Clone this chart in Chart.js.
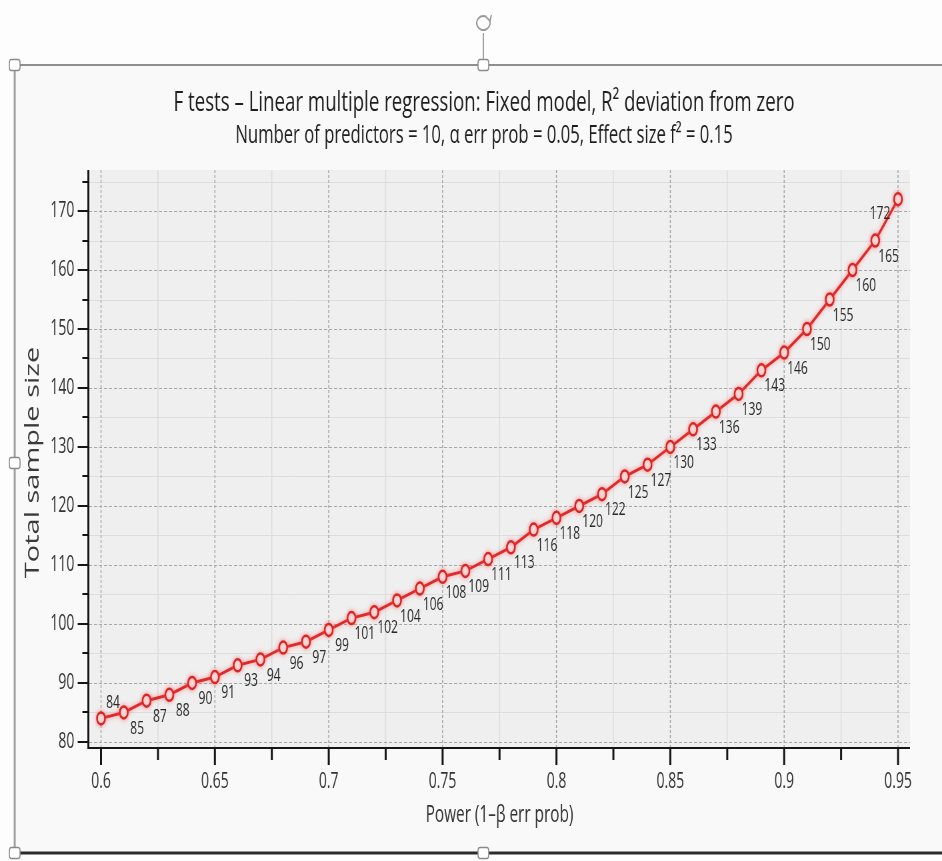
<!DOCTYPE html>
<html><head><meta charset="utf-8">
<script src="https://cdn.jsdelivr.net/npm/chart.js@4.4.1/dist/chart.umd.min.js"></script>
<style>
html,body{margin:0;padding:0;background:#fdfdfd;overflow:hidden;width:942px;height:861px;}
#wrap{width:1413px;height:861px;transform:scaleX(0.66667);transform-origin:0 0;}
canvas{display:block;}
</style>
</head><body>
<div id="wrap"><canvas id="c" width="1413" height="861"></canvas></div>
<script>
const powerValues = [0.60,0.61,0.62,0.63,0.64,0.65,0.66,0.67,0.68,0.69,0.70,0.71,0.72,0.73,0.74,0.75,0.76,0.77,0.78,0.79,0.80,0.81,0.82,0.83,0.84,0.85,0.86,0.87,0.88,0.89,0.90,0.91,0.92,0.93,0.94,0.95];
const sampleSizes = [84,85,87,88,90,91,93,94,96,97,99,101,102,104,106,108,109,111,113,116,118,120,122,125,127,130,133,136,139,143,146,150,155,160,165,172];
const xMajorTicks = [0.6,0.65,0.7,0.75,0.8,0.85,0.9,0.95];
const xMinorTicks = [0.625,0.675,0.725,0.775,0.825,0.875,0.925];
const yMajorTicks = [80,90,100,110,120,130,140,150,160,170];
const yMinorTicks = [85,95,105,115,125,135,145,155,165,175];

const FONT = "'Open Sans','Noto Sans',sans-serif";

const bgPlugin = {
  id: 'bg',
  beforeDraw(chart) {
    const ctx = chart.ctx, a = chart.chartArea;
    ctx.save();
    ctx.fillStyle = '#fdfdfd'; ctx.fillRect(0,0,chart.width,chart.height);
    ctx.fillStyle = '#f9f9f9'; ctx.fillRect(22,65,chart.width-22,853-65);
    ctx.fillStyle = '#efefef'; ctx.fillRect(a.left+2,a.top,a.right-a.left-2,a.bottom-a.top);
    const xs = chart.scales.x, ys = chart.scales.y;
    ctx.strokeStyle = '#dddddd'; ctx.setLineDash([]);
    ctx.lineWidth = 1.5;
    xMinorTicks.forEach(v=>{const p=xs.getPixelForValue(v);ctx.beginPath();ctx.moveTo(p,a.top);ctx.lineTo(p,a.bottom);ctx.stroke();});
    ctx.lineWidth = 1;
    yMinorTicks.forEach(v=>{const p=Math.round(ys.getPixelForValue(v))+0.5;ctx.beginPath();ctx.moveTo(a.left,p);ctx.lineTo(a.right,p);ctx.stroke();});
    ctx.strokeStyle = '#a6a6a6';
    ctx.lineWidth = 1.5; ctx.setLineDash([3,2]);
    xMajorTicks.forEach(v=>{const p=xs.getPixelForValue(v);ctx.beginPath();ctx.moveTo(p,a.top);ctx.lineTo(p,a.bottom);ctx.stroke();});
    ctx.lineWidth = 1; ctx.setLineDash([4.5,3]);
    yMajorTicks.forEach(v=>{const p=Math.round(ys.getPixelForValue(v))+0.5;ctx.beginPath();ctx.moveTo(a.left,p);ctx.lineTo(a.right,p);ctx.stroke();});
    ctx.setLineDash([]);
    ctx.strokeStyle = '#151515';
    ctx.lineWidth = 3;
    ctx.beginPath(); ctx.moveTo(a.left-1,a.top); ctx.lineTo(a.left-1,a.bottom+2); ctx.stroke();
    ctx.lineWidth = 2;
    ctx.beginPath(); ctx.moveTo(a.left-2,a.bottom+1); ctx.lineTo(a.right,a.bottom+1); ctx.stroke();
    yMajorTicks.forEach(v=>{const p=Math.round(ys.getPixelForValue(v));ctx.beginPath();ctx.moveTo(a.left-17,p);ctx.lineTo(a.left-1,p);ctx.stroke();});
    yMinorTicks.forEach(v=>{const p=Math.round(ys.getPixelForValue(v));ctx.beginPath();ctx.moveTo(a.left-10,p);ctx.lineTo(a.left-1,p);ctx.stroke();});
    ctx.lineWidth = 3;
    xMajorTicks.forEach(v=>{const p=xs.getPixelForValue(v);ctx.beginPath();ctx.moveTo(p,a.bottom+1);ctx.lineTo(p,a.bottom+18);ctx.stroke();});
    xMinorTicks.forEach(v=>{const p=xs.getPixelForValue(v);ctx.beginPath();ctx.moveTo(p,a.bottom+1);ctx.lineTo(p,a.bottom+13);ctx.stroke();});
    ctx.restore();
  }
};

const glowPlugin = {
  id: 'glow',
  beforeDatasetDraw(chart) {
    const ctx = chart.ctx; ctx.save();
    ctx.shadowColor = 'rgba(255,90,90,0.6)'; ctx.shadowBlur = 5;
  },
  afterDatasetDraw(chart) { chart.ctx.restore(); }
};

const labelPlugin = {
  id: 'pointLabels',
  afterDatasetsDraw(chart) {
    const ctx = chart.ctx, meta = chart.getDatasetMeta(0), data = chart.data.datasets[0].data;
    ctx.save();
    ctx.font = "18px " + FONT; ctx.fillStyle = '#2a2a2a';
    ctx.textAlign = 'center'; ctx.textBaseline = 'middle';
    meta.data.forEach((pt,i)=>{
      let dx = 20, dy = 16;
      if (i === 0) { dx = 18; dy = -16; }
      if (i === meta.data.length-1) { dx = -27; dy = 15; }
      ctx.fillText(String(data[i].y), pt.x+dx, pt.y+dy);
    });
    ctx.restore();
  }
};

const yTitlePlugin = {
  id: 'yTitle',
  afterDraw(chart) {
    const t = chart.options.scales.y.title, a = chart.chartArea, ctx = chart.ctx;
    ctx.save();
    ctx.translate(50, (a.top+a.bottom)/2 + 4);
    ctx.rotate(-Math.PI/2);
    ctx.font = "29px " + FONT;
    ctx.fillStyle = '#3a3a3a';
    ctx.textAlign = 'center'; ctx.textBaseline = 'middle';
    ctx.fillText(t.text, 0, 0);
    ctx.restore();
  }
};

const framePlugin = {
  id: 'frame',
  afterDraw(chart) {
    const ctx = chart.ctx, W = chart.width;
    ctx.save();
    const line=(x1,y1,x2,y2)=>{ctx.beginPath();ctx.moveTo(x1,y1);ctx.lineTo(x2,y2);ctx.stroke();};
    ctx.lineWidth = 2; ctx.strokeStyle = '#8e8e8e'; line(22,65,W,65);
    ctx.lineWidth = 3; ctx.strokeStyle = '#a0a0a0'; line(22,65,22,853);
    ctx.lineWidth = 3; ctx.strokeStyle = '#2b2b2b'; line(22,853,W,853);
    ctx.lineWidth = 1.5; ctx.strokeStyle = '#808080'; line(725,33,725,60);
    ctx.lineWidth = 2; ctx.strokeStyle = '#9a9a9a';
    ctx.beginPath(); ctx.ellipse(725,23,10,7,0,-0.15*Math.PI,1.65*Math.PI); ctx.stroke();
    ctx.beginPath(); ctx.moveTo(729,17); ctx.lineTo(735,21); ctx.lineTo(737,15); ctx.stroke();
    [[22,65],[725,65],[22,463],[22,853],[725,853]].forEach(([x,y])=>{
      ctx.beginPath(); ctx.roundRect(x-8,y-5.5,16,11,3);
      ctx.fillStyle='#ffffff'; ctx.fill(); ctx.lineWidth=1.6; ctx.strokeStyle='#8a8a8a'; ctx.stroke();
    });
    ctx.restore();
  }
};

new Chart(document.getElementById('c'), {
  type: 'line',
  data: {
    datasets: [{
      data: powerValues.map((p,i)=>({x:p, y:sampleSizes[i]})),
      borderColor: '#e02a2a',
      borderWidth: 3,
      pointRadius: 6,
      pointBorderWidth: 2.5,
      pointBackgroundColor: '#f6eaea',
      pointBorderColor: '#d82424',
      tension: 0,
      fill: false,
      yAxisID: 'y'
    }]
  },
  options: {
    responsive: false,
    animation: false,
    layout: { padding: { left: 39, right: 0, top: 0, bottom: 0 } },
    plugins: {
      legend: { display: false },
      tooltip: { enabled: false },
      title: {
        display: true,
        text: 'F tests \u2013 Linear multiple regression: Fixed model, R\u00b2 deviation from zero',
        color: '#1e1e1e',
        font: { family: FONT, size: 28, weight: 'normal', lineHeight: 1.2 },
        padding: { top: 86.2, bottom: 0 }
      },
      subtitle: {
        display: true,
        text: 'Number of predictors = 10, \u03b1 err prob = 0.05, Effect size f\u00b2 = 0.15',
        color: '#1e1e1e',
        font: { family: FONT, size: 25, weight: 'normal', lineHeight: 1.2 },
        padding: { top: 1.2, bottom: 19 }
      }
    },
    scales: {
      x: {
        type: 'linear',
        min: 0.59473, max: 0.95527,
        afterFit(s) { s.height = 114; },
        afterBuildTicks(s) { s.ticks = xMajorTicks.concat(xMinorTicks).sort((a,b)=>a-b).map(v=>({value:v})); },
        grid: { display: false, drawTicks: false },
        border: { display: false },
        ticks: {
          autoSkip: false, maxRotation: 0, padding: 22, color: '#333',
          font: { family: FONT, size: 21 },
          callback: (v) => xMajorTicks.some(m=>Math.abs(m-v)<1e-9) ? String(+v.toFixed(3)) : ''
        },
        title: {
          display: true, text: 'Power (1\u2013\u03b2 err prob)', color: '#333',
          font: { family: FONT, size: 23, lineHeight: 1.2 },
          padding: { top: 0, bottom: 32 }
        }
      },
      y: {
        type: 'linear',
        position: 'left',
        min: 79.15, max: 176.95,
        afterFit(s) { s.width = 94.5; },
        afterBuildTicks(s) { s.ticks = yMajorTicks.concat(yMinorTicks).sort((a,b)=>a-b).map(v=>({value:v})); },
        grid: { display: false, drawTicks: false },
        border: { display: false },
        ticks: {
          autoSkip: false, padding: 22, color: '#333',
          font: { family: FONT, size: 21 },
          callback: (v) => yMajorTicks.includes(v) ? String(v) : ''
        },
        title: { display: false, text: 'Total sample size' }
      },
      rightSpace: {
        type: 'linear',
        position: 'right',
        display: true,
        afterFit(s) { s.width = 48; },
        grid: { display: false, drawTicks: false },
        border: { display: false },
        ticks: { display: false }
      }
    }
  },
  plugins: [bgPlugin, glowPlugin, labelPlugin, yTitlePlugin, framePlugin]
});
</script>
</body></html>
